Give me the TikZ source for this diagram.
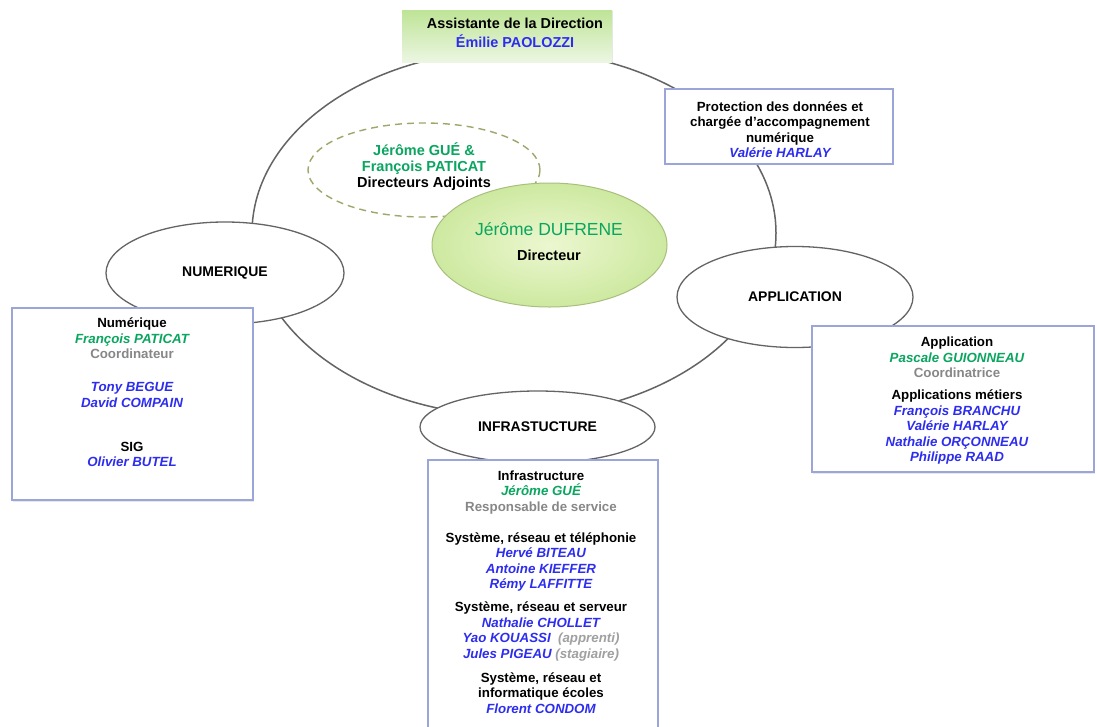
\documentclass[tikz,border=0pt]{standalone}
\usepackage{fontspec}
\setmainfont{Liberation Sans}
\usetikzlibrary{shapes.geometric,shadows}
\definecolor{nameblue}{RGB}{45,45,240}
\definecolor{namegreen}{RGB}{10,165,95}
\definecolor{rolegrey}{RGB}{135,135,135}
\definecolor{notegrey}{RGB}{160,160,160}
\definecolor{boxline}{RGB}{155,165,215}
\definecolor{ringline}{RGB}{100,100,100}
\definecolor{dashline}{RGB}{155,168,105}
\definecolor{dirline}{RGB}{170,190,125}
\definecolor{dirin}{RGB}{236,247,208}
\definecolor{dirout}{RGB}{205,233,160}
\definecolor{asstop}{RGB}{190,228,150}
\definecolor{assbot}{RGB}{236,246,226}

\newcommand\phead[1]{{\bfseries\color{black}#1}}
\newcommand\pname[1]{{\bfseries\itshape\color{nameblue}#1}}
\newcommand\pgreen[1]{{\bfseries\itshape\color{namegreen}#1}}
\newcommand\prole[1]{{\bfseries\color{rolegrey}#1}}
\newcommand\pnote[1]{{\bfseries\itshape\color{notegrey}#1}}

\tikzset{
 ringshape/.style={ellipse, draw=ringline, line width=1.5pt, inner sep=0, minimum width=524pt, minimum height=366pt},
 catellipse/.style={ellipse, draw=ringline, line width=1.3pt, fill=white, inner sep=0, font=\fontsize{14}{16}\selectfont\bfseries},
 unitbox/.style={rectangle, draw=boxline, line width=2pt, fill=white, inner sep=0, drop shadow={opacity=0.18, shadow xshift=1.2pt, shadow yshift=-1.5pt}},
 boxtext/.style={align=center, inner sep=0, font=\fontsize{13.3}{15.5}\selectfont},
}

\begin{document}
\begin{tikzpicture}[x=1pt,y=-1pt]
\path[use as bounding box] (0,0) rectangle (1097,726);
\fill[white] (0,0) rectangle (1097,726);
\clip (0,0) rectangle (1097,726);

% outer ring
\node[ringshape] (ring) at (514,233) {};

% deputies
\node[ellipse, draw=dashline, dash pattern=on 7pt off 5pt, line width=1.4pt, minimum width=232pt, minimum height=94pt, inner sep=0] (deputies) at (424,170) {};
\node[boxtext, font=\fontsize{14.5}{16}\selectfont, anchor=north] (deputiestxt) at (424,142)
 {{\bfseries\color{namegreen}Jérôme GUÉ \&}\\{\bfseries\color{namegreen}François PATICAT}\\\phead{Directeurs Adjoints}};

% director
\node[ellipse, draw=dirline, line width=1pt, inner color=dirin, outer color=dirout, minimum width=235pt, minimum height=124pt, inner sep=0] (director) at (549.5,245) {};
\node[anchor=base, font=\fontsize{17.5}{20}\selectfont, text=namegreen, inner sep=0] (dirname) at (549,235) {Jérôme DUFRENE};
\node[anchor=base, font=\fontsize{14.5}{16}\selectfont\bfseries, inner sep=0] (dirrole) at (549,260) {Directeur};

% category ellipses
\node[catellipse, minimum width=238pt, minimum height=102pt] (numell) at (225,273) {NUMERIQUE};
\node[catellipse, minimum width=236pt, minimum height=101pt] (appell) at (795,297) {APPLICATION};
\node[catellipse, minimum width=235pt, minimum height=72pt] (infell) at (537.5,427) {INFRASTUCTURE};

% protection box
\node[unitbox, minimum width=228pt, minimum height=75pt] (protbox) at (779,126) {};
\node[boxtext, anchor=north] (prottxt) at (780,101.5)
 {\phead{Protection des données et}\\\phead{chargée d’accompagnement}\\\phead{numérique}\\\pname{Valérie HARLAY}};

% numerique box
\node[unitbox, minimum width=241pt, minimum height=192pt] (numbox) at (132.5,404) {};
\node[boxtext, anchor=north] (numtxt) at (132,318)
 {\phead{Numérique}\\\pgreen{François PATICAT}\\\prole{Coordinateur}\\[17.5pt]
  \pname{Tony BEGUE}\\\pname{David COMPAIN}\\[28.5pt]
  \phead{SIG}\\\pname{Olivier BUTEL}};

% application box
\node[unitbox, minimum width=282pt, minimum height=146pt] (appbox) at (953,399) {};
\node[boxtext, anchor=north] (apptxt) at (957,337)
 {\phead{Application}\\\pgreen{Pascale GUIONNEAU}\\\prole{Coordinatrice}\\[6.5pt]
  \phead{Applications métiers}\\\pname{François BRANCHU}\\\pname{Valérie HARLAY}\\
  \pname{Nathalie ORÇONNEAU}\\\pname{Philippe RAAD}};

% infrastructure box
\node[unitbox, minimum width=230pt, minimum height=290pt] (infbox) at (543,605) {};
\node[boxtext, anchor=north] (inftxt) at (541,470.3)
 {\phead{Infrastructure}\\\pgreen{Jérôme GUÉ}\\\prole{Responsable de service}\\[15.5pt]
  \phead{Système, réseau et téléphonie}\\\pname{Hervé BITEAU}\\\pname{Antoine KIEFFER}\\\pname{Rémy LAFFITTE}\\[7.5pt]
  \phead{Système, réseau et serveur}\\\pname{Nathalie CHOLLET}\\\pname{Yao KOUASSI}\ \ \pnote{(apprenti)}\\\pname{Jules PIGEAU} \pnote{(stagiaire)}\\[8.5pt]
  \phead{Système, réseau et}\\\phead{informatique écoles}\\\pname{Florent CONDOM}};

% assistant box
\node[rectangle, top color=asstop, bottom color=assbot, minimum width=210pt, minimum height=52pt, inner sep=0, drop shadow={opacity=0.18, shadow xshift=1pt, shadow yshift=-1.2pt}] (assbox) at (507,36) {};
\node[boxtext, anchor=north, font=\fontsize{14.4}{19}\selectfont] (asstxt) at (515,17.7)
 {\phead{Assistante de la Direction}\\{\bfseries\color{nameblue}Émilie PAOLOZZI}};
\end{tikzpicture}
\end{document}
